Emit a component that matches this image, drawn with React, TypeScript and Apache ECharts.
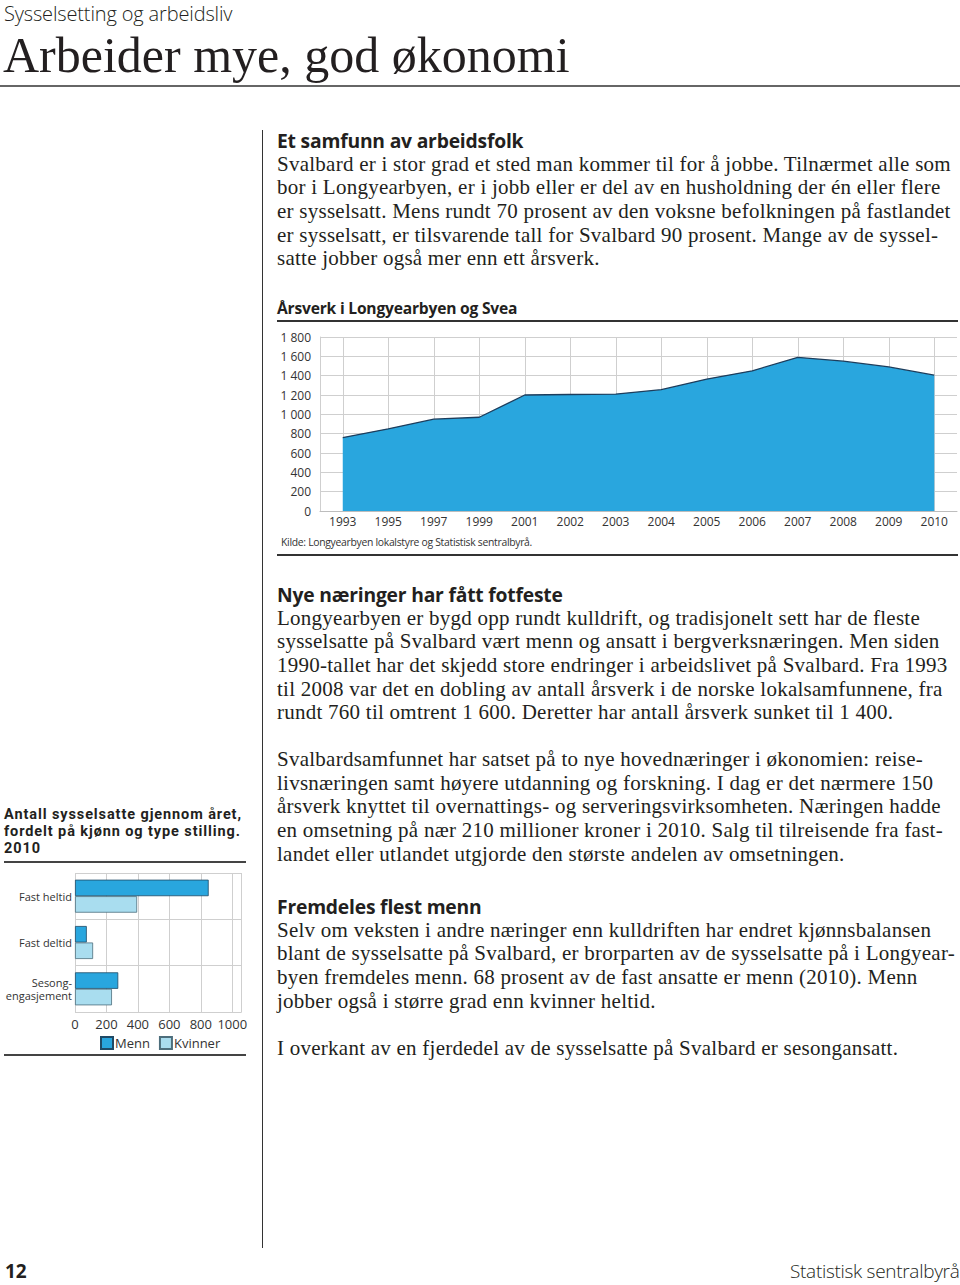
import React, { useEffect, useRef } from 'react';
import * as echarts from 'echarts';

// ---------- data ----------
const years = ['1993', '1995', '1997', '1999', '2001', '2002', '2003', '2004', '2005', '2006', '2007', '2008', '2009', '2010'];
const arsverk = [760, 850, 950, 970, 1200, 1205, 1210, 1255, 1365, 1450, 1590, 1550, 1490, 1405];
const areaYMax = 1800;
const areaYStep = 200;

const barCategories = ['Fast heltid', 'Fast deltid', 'Sesong-\nengasjement'];
const menn = [850, 75, 275];
const kvinner = [395, 115, 235];
const barXTicks = [0, 200, 400, 600, 800, 1000];
const legendLabels = ['Menn', 'Kvinner'];

// ---------- text ----------
const para1 = [
  'Svalbard er i stor grad et sted man kommer til for å jobbe. Tilnærmet alle som',
  'bor i Longyearbyen, er i jobb eller er del av en husholdning der én eller flere',
  'er sysselsatt. Mens rundt 70 prosent av den voksne befolkningen på fastlandet',
  'er sysselsatt, er tilsvarende tall for Svalbard 90 prosent. Mange av de syssel-',
  'satte jobber også mer enn ett årsverk.',
];
const para2 = [
  'Longyearbyen er bygd opp rundt kulldrift, og tradisjonelt sett har de fleste',
  'sysselsatte på Svalbard vært menn og ansatt i bergverksnæringen. Men siden',
  '1990-tallet har det skjedd store endringer i arbeidslivet på Svalbard. Fra 1993',
  'til 2008 var det en dobling av antall årsverk i de norske lokalsamfunnene, fra',
  'rundt 760 til omtrent 1 600. Deretter har antall årsverk sunket til 1 400.',
];
const para3 = [
  'Svalbardsamfunnet har satset på to nye hovednæringer i økonomien: reise-',
  'livsnæringen samt høyere utdanning og forskning. I dag er det nærmere 150',
  'årsverk knyttet til overnattings- og serveringsvirksomheten. Næringen hadde',
  'en omsetning på nær 210 millioner kroner i 2010. Salg til tilreisende fra fast-',
  'landet eller utlandet utgjorde den største andelen av omsetningen.',
];
const para4 = [
  'Selv om veksten i andre næringer enn kulldriften har endret kjønnsbalansen',
  'blant de sysselsatte på Svalbard, er brorparten av de sysselsatte på i Longyear-',
  'byen fremdeles menn. 68 prosent av de fast ansatte er menn (2010). Menn',
  'jobber også i større grad enn kvinner heltid.',
];
const para5 = ['I overkant av en fjerdedel av de sysselsatte på Svalbard er sesongansatt.'];
const barTitle = ['Antall sysselsatte gjennom året,', 'fordelt på kjønn og type stilling.', '2010'];

const SANS = '"Open Sans", "DejaVu Sans", sans-serif';
const SERIF = '"Liberation Serif", "DejaVu Serif", serif';
const TXT = '#231f20';

const spaced = (v: number) => String(v).replace(/\B(?=(\d{3})+(?!\d))/g, ' ');

function AreaChart() {
  const ref = useRef<HTMLDivElement>(null);
  useEffect(() => {
    const chart = echarts.init(ref.current!, null, { renderer: 'svg' });
    const grey = '#cfcfcf';
    chart.setOption({
      animation: false,
      grid: [
        { left: 60, top: 12, width: 637, height: 174 },
        { left: 82.75, top: 12, width: 591.5, height: 174 },
      ],
      xAxis: [
        {
          gridIndex: 0, type: 'category', data: years, boundaryGap: true,
          axisLine: { show: true, lineStyle: { color: '#bdbdbd', width: 1 } },
          axisTick: { show: false },
          axisLabel: { fontFamily: SANS, fontSize: 12, color: '#333', margin: 4 },
          splitLine: { show: false },
        },
        {
          gridIndex: 1, type: 'category', data: years, boundaryGap: false,
          axisLine: { show: false }, axisTick: { show: false }, axisLabel: { show: false },
          splitLine: { show: true, lineStyle: { color: grey, width: 1 } },
        },
      ],
      yAxis: [
        {
          gridIndex: 0, type: 'value', min: 0, max: areaYMax, interval: areaYStep,
          axisLine: { show: true, lineStyle: { color: grey } },
          axisTick: { show: false },
          axisLabel: { fontFamily: SANS, fontSize: 12, color: '#333', margin: 9, formatter: (v: number) => spaced(v) },
          splitLine: { show: true, lineStyle: { color: grey, width: 1 } },
        },
        { gridIndex: 1, type: 'value', min: 0, max: areaYMax, show: false },
      ],
      series: [
        {
          type: 'line', xAxisIndex: 1, yAxisIndex: 1, data: arsverk, symbol: 'none',
          lineStyle: { color: '#1d3d5c', width: 1.3 },
          areaStyle: { color: '#29A6DE', opacity: 1 },
        },
      ],
    });
    return () => chart.dispose();
  }, []);
  return <div ref={ref} style={{ position: 'absolute', left: 260, top: 325, width: 700, height: 215 }} />;
}

function BarChart() {
  const ref = useRef<HTMLDivElement>(null);
  useEffect(() => {
    const chart = echarts.init(ref.current!, null, { renderer: 'svg' });
    const grey = '#cfcfcf';
    chart.setOption({
      animation: false,
      grid: { left: 75, top: 11, width: 166.7, height: 139 },
      legend: {
        data: legendLabels, left: 100, top: 174, padding: 0, itemWidth: 12, itemHeight: 12, itemGap: 9,
        icon: 'rect',
        textStyle: { fontFamily: SANS, fontSize: 13, color: '#333', padding: [0, 0, 0, -3] },
      },
      xAxis: {
        type: 'value', min: 0, max: 1060, interval: 200,
        axisLine: { show: false }, axisTick: { show: false },
        axisLabel: {
          fontFamily: SANS, fontSize: 13, color: '#333', margin: 5,
          formatter: (v: number) => (barXTicks.includes(v) ? String(v) : ''),
        },
        splitLine: { show: true, lineStyle: { color: grey, width: 1 } },
      },
      yAxis: {
        type: 'category', inverse: true, data: barCategories,
        axisLine: { show: false }, axisTick: { show: false },
        axisLabel: { fontFamily: SANS, fontSize: 11, color: '#333', margin: 3, lineHeight: 13, align: 'right' },
        splitLine: { show: true, lineStyle: { color: grey, width: 1 } },
      },
      series: [
        {
          name: legendLabels[0], type: 'bar', data: menn, barWidth: 16.5, barGap: '0%',
          itemStyle: { color: '#29A6DE', borderColor: '#1f4a66', borderWidth: 0.8 },
        },
        {
          name: legendLabels[1], type: 'bar', data: kvinner, barWidth: 16.5, barGap: '0%',
          itemStyle: { color: '#A9DDEF', borderColor: '#4d6e7c', borderWidth: 0.8 },
        },
      ],
    });
    return () => chart.dispose();
  }, []);
  return <div ref={ref} style={{ position: 'absolute', left: 0, top: 862, width: 260, height: 200 }} />;
}

const abs = (left: number, top: number, extra: React.CSSProperties = {}): React.CSSProperties => ({
  position: 'absolute', left, top, whiteSpace: 'nowrap', color: TXT, ...extra,
});

const LH = 23.6;
const bodyStyle: React.CSSProperties = { fontFamily: SERIF, fontSize: 21, lineHeight: LH + 'px', letterSpacing: 0.25 };
const headStyle: React.CSSProperties = { fontFamily: SANS, fontSize: 19.3, fontWeight: 700, lineHeight: LH + 'px', letterSpacing: -0.2 };

function Block({ top, heading, lines }: { top: number; heading?: string; lines: string[] }) {
  return (
    <div style={abs(277, top - LH / 2)}>
      {heading ? <div style={headStyle}>{heading}</div> : null}
      {lines.map((l, i) => (
        <div key={i} style={bodyStyle}>{l}</div>
      ))}
    </div>
  );
}

export default function App() {
  return (
    <div style={{ position: 'absolute', left: 0, top: 0, width: 960, height: 1285, background: '#fff', overflow: 'hidden' }}>
      <div style={abs(4, 2, { fontFamily: SANS, fontSize: 20, fontWeight: 300, lineHeight: '24px', letterSpacing: -0.15 })}>
        Sysselsetting og arbeidsliv
      </div>
      <div style={abs(3, 25, { fontFamily: SERIF, fontSize: 50, lineHeight: '60px' })}>Arbeider mye, god økonomi</div>
      <div style={{ position: 'absolute', left: 0, top: 85, width: 960, height: 2, background: '#666' }} />
      <div style={{ position: 'absolute', left: 262, top: 130, width: 1, height: 1118, background: '#333' }} />

      <Block top={141} heading="Et samfunn av arbeidsfolk" lines={para1} />

      <div style={abs(277, 298, { fontFamily: SANS, fontSize: 15.6, fontWeight: 700, lineHeight: '20px', letterSpacing: -0.2 })}>
        Årsverk i Longyearbyen og Svea
      </div>
      <div style={{ position: 'absolute', left: 277, top: 320, width: 681, height: 1.5, background: '#333' }} />
      <AreaChart />
      <div style={abs(281, 535, { fontFamily: SANS, fontSize: 10.4, lineHeight: '14px', color: '#333', letterSpacing: -0.3 })}>
        Kilde: Longyearbyen lokalstyre og Statistisk sentralbyrå.
      </div>
      <div style={{ position: 'absolute', left: 277, top: 554, width: 681, height: 1.5, background: '#333' }} />

      <Block top={595} heading="Nye næringer har fått fotfeste" lines={para2} />
      <Block top={760} lines={para3} />
      <Block top={907} heading="Fremdeles flest menn" lines={para4} />
      <Block top={1049} lines={para5} />

      <div style={abs(4, 806, { fontFamily: 'Roboto, "Open Sans", sans-serif', fontSize: 14.5, fontWeight: 700, lineHeight: '17px', letterSpacing: 0.9 })}>
        {barTitle.map((l, i) => (
          <div key={i}>{l}</div>
        ))}
      </div>
      <div style={{ position: 'absolute', left: 4, top: 861, width: 242, height: 2, background: '#444' }} />
      <BarChart />
      <div style={{ position: 'absolute', left: 4, top: 1054, width: 242, height: 2, background: '#444' }} />

      <div style={abs(5, 1259, { fontFamily: SANS, fontSize: 19, fontWeight: 700, lineHeight: '24px' })}>12</div>
      <div style={abs(790, 1259, { fontFamily: SANS, fontSize: 19, fontWeight: 300, lineHeight: '24px', letterSpacing: -0.3 })}>
        Statistisk sentralbyrå
      </div>
    </div>
  );
}
